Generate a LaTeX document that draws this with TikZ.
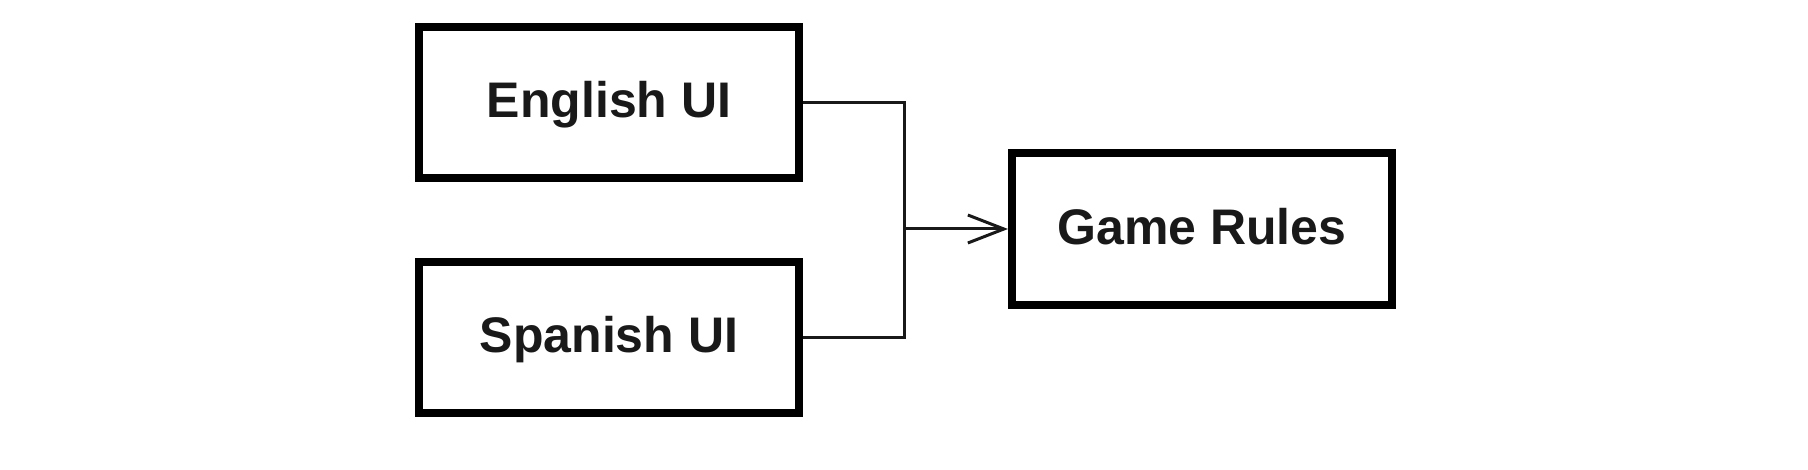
\documentclass[tikz,border=0pt]{standalone}
\usepackage{fontspec}
\setmainfont{Liberation Sans}
\usetikzlibrary{arrows.meta}
\begin{document}
\begin{tikzpicture}[x=0.5pt,y=-0.5pt,
  box/.style={draw=black, line width=4pt, minimum width=190pt, minimum height=75.5pt,
    inner sep=0pt, text height=18pt, text depth=3pt,
    font=\fontsize{25}{30}\selectfont\bfseries, text=black!90},
  link/.style={draw=black!90, line width=1.5pt},
  arr/.style={link, -{Straight Barb[length=18pt,width=14pt,line width=1.5pt]}}]
\useasboundingbox (0,0) rectangle (1808,470);
\node[box] (en) at (609,102.5) {English UI};
\node[box] (sp) at (609,337.5) {Spanish UI};
\node[box] (gr) at (1202,229) {Game Rules};
\coordinate (j) at (904,229);
\draw[link] (en.east) -| (j) |- (sp.east);
\draw[arr] (j) -- (gr.west);
\end{tikzpicture}
\end{document}
